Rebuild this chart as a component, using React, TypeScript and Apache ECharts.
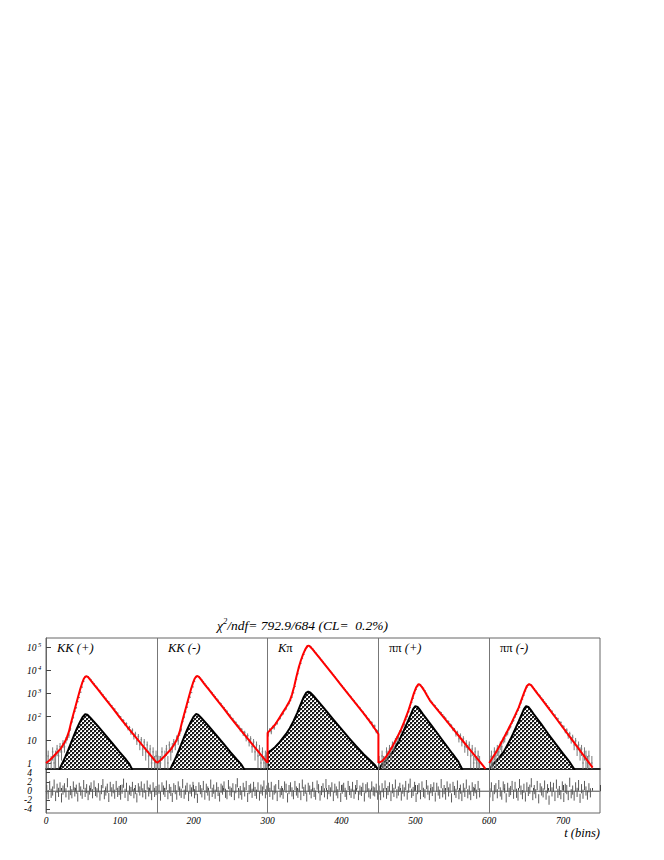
import React, { useEffect, useRef } from 'react';
import * as echarts from 'echarts';

// ---------- axis ranges / tick labels ----------
const X_MIN = 0;
const X_MAX = 750;
const X_INTERVAL = 100;
const Y_MIN = 0.55;
const Y_MAX = 2.45e5;
const R_MIN = -4.8;
const R_MAX = 4.8;
const separators = [150, 300, 450, 600];
const panelLabels = ['KK (+)', 'KK (-)', 'Kπ', 'ππ (+)', 'ππ (-)'];
const titleText = 'χ2/ndf= 792.9/684 (CL=  0.2%)';
const xTitle = 't (bins)';

// ---------- fit curve (red), [bin, log10(value)] ----------
const redKKp = [[0,0],[5,0.12],[10,0.28],[15,0.45],[20,0.62],[25,0.88],[28,1.07],[31,1.35],[34,1.75],[37,2.1],[40,2.45],[43,2.8],[46,3.15],[49,3.45],[51,3.62],[53,3.72],[55,3.74],[57,3.7],[60,3.58],[65,3.38],[70,3.18],[80,2.78],[90,2.38],[100,1.96],[110,1.56],[120,1.17],[130,0.78],[140,0.39],[150,0]];
const redKKm = [[150,0],[155,0.12],[160,0.28],[165,0.45],[170,0.62],[175,0.88],[178,1.07],[181,1.35],[184,1.75],[187,2.1],[190,2.45],[193,2.8],[196,3.15],[199,3.45],[201,3.62],[203,3.72],[205,3.75],[207,3.71],[210,3.59],[215,3.38],[220,3.18],[230,2.78],[240,2.38],[250,1.96],[260,1.56],[270,1.17],[280,0.78],[290,0.39],[300,0]];
const redKpi = [[300,0],[300,1.3],[305,1.47],[310,1.65],[315,1.9],[320,2.15],[325,2.4],[330,2.68],[333,2.95],[336,3.3],[339,3.72],[342,4.1],[345,4.42],[348,4.68],[351,4.9],[354,5.05],[356,5.06],[358,5.0],[361,4.9],[365,4.74],[370,4.54],[380,4.14],[390,3.74],[400,3.34],[410,2.94],[420,2.54],[430,2.14],[440,1.72],[450,1.25],[450,0]];
const redPiPip = [[450,0],[455,0.08],[460,0.25],[465,0.5],[470,0.78],[475,1.08],[480,1.4],[485,1.78],[490,2.2],[494,2.6],[498,3.0],[501,3.25],[504,3.39],[506,3.38],[509,3.27],[513,3.07],[516,2.9],[520,2.68],[530,2.29],[540,1.9],[550,1.51],[560,1.12],[570,0.73],[580,0.34],[590,-0.05],[595,-0.25]];
const redPiPim = [[600,0],[605,0.25],[610,0.5],[615,0.8],[620,1.1],[625,1.4],[630,1.72],[635,2.05],[640,2.4],[644,2.75],[648,3.1],[651,3.32],[654,3.4],[657,3.35],[660,3.22],[665,3.0],[670,2.8],[680,2.38],[690,1.95],[700,1.52],[710,1.09],[720,0.66],[730,0.23],[740,-0.2]];

// ---------- hatched component (black), [bin, log10(value)] ----------
const blkKKp = [[18,-0.3],[20,-0.15],[23,0.05],[26,0.25],[30,0.55],[34,0.88],[38,1.2],[42,1.5],[46,1.77],[50,2.0],[53,2.1],[56,2.08],[60,1.95],[70,1.6],[80,1.22],[90,0.84],[100,0.46],[108,0.16],[113,-0.05],[117,-0.3]];
const blkKKm = [[168,-0.3],[170,-0.15],[173,0.05],[176,0.25],[180,0.55],[184,0.88],[188,1.2],[192,1.5],[196,1.77],[200,2.0],[203,2.11],[206,2.08],[210,1.95],[220,1.6],[230,1.22],[240,0.84],[250,0.46],[258,0.16],[264,-0.05],[269,-0.3]];
const blkKpi = [[300,-0.3],[300,0.45],[305,0.55],[310,0.68],[315,0.85],[320,1.05],[325,1.25],[330,1.5],[335,1.8],[340,2.15],[345,2.55],[349,2.85],[352,3.02],[355,3.08],[358,3.03],[362,2.9],[370,2.6],[380,2.22],[390,1.84],[400,1.46],[410,1.08],[420,0.72],[430,0.38],[440,0.08],[446,-0.12],[450,-0.3]];
const blkPiPip = [[450,-0.3],[455,-0.05],[460,0.1],[465,0.3],[470,0.5],[475,0.8],[480,1.1],[485,1.45],[490,1.8],[494,2.1],[497,2.32],[500,2.45],[503,2.42],[506,2.3],[510,2.12],[520,1.7],[530,1.27],[540,0.84],[550,0.41],[558,0.07],[564,-0.3]];
const blkPiPim = [[600,-0.3],[605,-0.05],[610,0.1],[615,0.3],[620,0.5],[625,0.8],[630,1.1],[635,1.45],[640,1.8],[644,2.1],[647,2.32],[650,2.45],[653,2.42],[656,2.3],[660,2.12],[670,1.7],[680,1.25],[690,0.82],[700,0.4],[708,0.08],[716,-0.3]];

// ---------- data counts (every 2 bins) ----------
const dataStart = [0, 150, 300, 450, 600];
const dataKKp = [1,2,0,1,3,1,2,4,2,5,3,7,5,10,13,16,30,60,92,170,240,440,660,1130,1870,3300,4900,5450,5300,4480,3830,3120,2680,2160,1850,1490,1280,1030,880,700,615,485,430,335,295,228,210,158,140,102,96,70,68,47,49,31,34,21,26,14,18,9,14,6,10,4,8,3,6,2,4,1,3,1,2];
const dataKKm = [2,1,1,3,0,2,4,1,6,3,5,8,6,12,9,19,28,62,95,160,255,420,690,1080,1900,3250,4850,5500,5250,4550,3760,3180,2610,2230,1790,1520,1240,1060,860,730,590,510,405,355,280,245,195,170,128,115,88,79,60,55,42,38,28,27,19,20,12,15,8,11,5,8,3,6,2,4,1,3,1,2,0];
const dataKpi = [18,27,22,35,33,49,52,76,85,118,133,186,215,300,360,490,690,1060,1980,4050,7000,12700,19800,31800,47600,71000,95000,112000,111000,99500,83500,69000,57800,47700,40000,33200,27500,22800,19200,15700,13300,10900,9200,7500,6400,5200,4400,3600,3050,2480,2120,1730,1470,1190,1010,820,700,560,490,385,335,270,235,185,160,125,110,84,76,56,55,37,39,24,22];
const dataPiPip = [1,0,2,1,1,3,2,4,3,6,5,9,11,12,21,23,37,46,75,103,162,245,410,620,1010,1460,2020,2430,2360,1880,1680,1300,1010,750,600,470,410,320,290,225,200,160,146,118,98,84,62,60,44,40,29,27,18,20,11,15,8,11,5,7,4,6,2,4,1,3,1,2,1,0];
const dataPiPim = [1,2,1,3,2,4,3,6,5,10,11,18,20,31,37,55,68,98,128,185,248,390,560,840,1270,1850,2420,2480,2300,1850,1600,1300,1110,900,770,620,535,420,360,285,245,190,170,125,115,86,80,56,55,38,36,24,26,15,18,10,13,6,9,4,6,3,4,1,3,2,1,2,0,1];

// ---------- residuals (tenths, every 2 bins) ----------
const resKKp = [3,-8,12,-5,0,15,-12,6,-3,9,-15,2,7,-4,18,-9,1,-6,11,-2,4,-13,8,0,-7,14,-3,5,-10,2,9,-6,13,-1,-4,7,-11,3,16,-8,0,6,-14,10,-2,5,-7,12,-3,1,-9,4,17,-5,8,-12,2,-1,10,-6,3,-15,7,0,11,-4,6,-8,13,-2,4,-10,9,-3,1];
const resKKm = [-6,4,-11,9,2,-3,13,-8,5,-1,-14,7,3,-9,11,0,-5,16,-7,2,8,-12,4,-2,10,-6,1,-16,9,3,-4,12,-9,6,0,-11,15,-3,4,-7,9,-1,-13,6,2,11,-5,-8,14,0,-3,7,-10,5,18,-6,1,-9,8,-2,12,-14,3,6,-5,10,-1,-7,9,-11,4,0,13,-6,2];
const resKpi = [8,-3,10,-9,2,5,-12,14,-4,1,-7,11,6,-15,3,9,-2,-8,12,0,-5,7,-10,15,-1,4,-13,8,2,-6,10,-3,-9,13,5,-11,1,7,-4,16,-8,3,-2,9,-12,6,0,-6,11,-14,4,8,-3,-9,12,1,-5,10,-7,3,14,-10,2,-1,8,-13,5,9,-4,-7,11,0,-2,6,-9];
const resPiPip = [2,-10,7,-4,13,-7,1,9,-12,5,-3,15,-6,0,8,-11,4,-2,12,-9,6,17,-5,-1,10,-14,3,7,-8,11,-3,-6,14,2,-10,5,-1,9,-13,8,0,-7,16,-4,3,-9,11,-2,6,-15,10,1,-5,13,-8,4,-12,7,-3,15,-6,2,-10,9,-1,5,-7,12,-4];
const resPiPim = [-4,9,-12,3,7,-6,14,-2,-9,11,5,-15,8,-3,1,12,-7,10,-5,-11,16,2,-8,6,-13,9,-1,4,18,-10,3,-6,12,-17,7,0,-4,13,-9,5,-20,10,-2,8,-12,15,-5,1,-8,11,-14,6,3,-10,19,-6,2,-11,9,-3,14,-16,5,-7,12,0,-9,7,-4];

const redCurves = [redKKp, redKKm, redKpi, redPiPip, redPiPim];
const blkCurves = [blkKKp, blkKKm, blkKpi, blkPiPip, blkPiPim];
const dataSets = [dataKKp, dataKKm, dataKpi, dataPiPip, dataPiPim];
const resSets = [resKKp, resKKm, resKpi, resPiPip, resPiPim];

const SERIF = 'Liberation Serif';

export default function App() {
  const ref = useRef<HTMLDivElement>(null);

  useEffect(() => {
    if (!ref.current) return;
    const chart = echarts.init(ref.current, null, { renderer: 'svg' });

    const cv = document.createElement('canvas');
    cv.width = 4; cv.height = 4;
    const ctx = cv.getContext('2d')!;
    ctx.fillStyle = '#ffffff'; ctx.fillRect(0, 0, 4, 4);
    ctx.fillStyle = '#1a1a1a';
    ctx.fillRect(0, 0, 2, 2); ctx.fillRect(2, 2, 2, 2);
    ctx.fillStyle = '#9a9a9a';
    ctx.fillRect(2, 0, 1, 1); ctx.fillRect(0, 2, 1, 1);
    const hatch: any = { image: cv.toDataURL(), repeat: 'repeat', imageWidth: 4, imageHeight: 4 };

    const toVal = (arr: number[][]) => arr.map(([b, l]) => [b, Math.pow(10, l)]);

    const dataPts: number[][] = [];
    dataSets.forEach((arr, p) => arr.forEach((c, i) => dataPts.push([dataStart[p] + 2 * i + 1, c])));
    const resPts: number[][] = [];
    resSets.forEach((arr, p) => arr.forEach((r, i) => resPts.push([dataStart[p] + 2 * i + 1, r / 10])));

    const series: any[] = [];
    blkCurves.forEach((c) => series.push({
      type: 'line', xAxisIndex: 0, yAxisIndex: 0, data: toVal(c), showSymbol: false, symbol: 'none',
      lineStyle: { color: '#000', width: 2 }, areaStyle: { color: hatch, opacity: 1, origin: 'start' },
      z: 2, silent: true, clip: true,
    }));
    series.push({
      type: 'custom', xAxisIndex: 0, yAxisIndex: 0, data: dataPts, z: 3, clip: true, silent: true,
      renderItem: (_p: any, api: any) => {
        const x = api.value(0), c = api.value(1);
        if (!(c > 0)) return null;
        const e = Math.sqrt(c);
        const lo = Math.max(c - e, Y_MIN), hi = Math.min(c + e, Y_MAX);
        const p1 = api.coord([x, lo]), p2 = api.coord([x, hi]), pc = api.coord([x, c]);
        return {
          type: 'group', children: [
            { type: 'line', shape: { x1: p1[0], y1: p1[1], x2: p2[0], y2: p2[1] }, style: { stroke: '#7a7a7a', lineWidth: 1 } },
            { type: 'line', shape: { x1: pc[0] - 0.8, y1: pc[1], x2: pc[0] + 0.8, y2: pc[1] }, style: { stroke: '#7a7a7a', lineWidth: 1 } },
          ],
        };
      },
    });
    redCurves.forEach((c, i) => series.push({
      type: 'line', xAxisIndex: 0, yAxisIndex: 0, data: toVal(c), showSymbol: false, symbol: 'none',
      lineStyle: { color: '#ff0000', width: 2 }, z: 5, silent: true, clip: true,
      markLine: i === 0 ? {
        silent: true, symbol: ['none', 'none'], label: { show: false },
        lineStyle: { color: '#777', width: 1, type: 'solid' },
        data: separators.map((s) => ({ xAxis: s })),
      } : undefined,
    }));
    series.push({
      type: 'line', xAxisIndex: 1, yAxisIndex: 1, data: [[X_MIN, 0], [X_MAX, 0]], showSymbol: false, symbol: 'none',
      lineStyle: { color: '#999', width: 1 }, z: 1, silent: true,
      markLine: {
        silent: true, symbol: ['none', 'none'], label: { show: false },
        lineStyle: { color: '#777', width: 1, type: 'solid' },
        data: separators.map((s) => ({ xAxis: s })),
      },
    });
    series.push({
      type: 'custom', xAxisIndex: 1, yAxisIndex: 1, data: resPts, z: 3, clip: true, silent: true,
      renderItem: (_p: any, api: any) => {
        const x = api.value(0), r = api.value(1);
        const p1 = api.coord([x, Math.max(r - 1, R_MIN)]), p2 = api.coord([x, Math.min(r + 1, R_MAX)]);
        return { type: 'line', shape: { x1: p1[0], y1: p1[1], x2: p2[0], y2: p2[1] }, style: { stroke: '#5a5a5a', lineWidth: 1 } };
      },
    });

    const lbl = { fontFamily: SERIF, fontStyle: 'italic', color: '#000' };

    const option: any = {
      animation: false,
      backgroundColor: '#fff',
      grid: [
        { left: 46, top: 638, width: 554, height: 131, show: true, borderColor: '#666', borderWidth: 1, backgroundColor: 'transparent' },
        { left: 46, top: 769, width: 554, height: 44, show: true, borderColor: '#666', borderWidth: 1, backgroundColor: 'transparent' },
      ],
      xAxis: [
        {
          gridIndex: 0, type: 'value', min: X_MIN, max: X_MAX, interval: X_INTERVAL,
          axisLabel: { show: false }, axisTick: { show: false }, splitLine: { show: false },
          axisLine: { show: true, lineStyle: { color: '#000', width: 1.5 } },
        },
        {
          gridIndex: 1, type: 'value', min: X_MIN, max: X_MAX, interval: X_INTERVAL,
          axisLabel: { ...lbl, fontSize: 9.5, margin: 3, showMaxLabel: false },
          axisTick: { inside: true, length: 6, lineStyle: { color: '#444' } },
          minorTick: { show: true, splitNumber: 5, length: 3, lineStyle: { color: '#444' } },
          splitLine: { show: false }, minorSplitLine: { show: false },
          axisLine: { show: true, lineStyle: { color: '#666' } },
        },
      ],
      yAxis: [
        {
          gridIndex: 0, type: 'log', logBase: 10, min: Y_MIN, max: Y_MAX,
          axisLabel: {
            align: 'left', margin: 19, showMinLabel: false, showMaxLabel: false,
            formatter: (v: number) => {
              const e = Math.round(Math.log10(v));
              if (e === 0) return '{b|1}';
              if (e === 1) return '{b|10}';
              return '{b|10}{s|' + e + '}';
            },
            rich: {
              b: { ...lbl, fontSize: 9.5, lineHeight: 12, verticalAlign: 'bottom' },
              s: { ...lbl, fontSize: 6.5, lineHeight: 6, verticalAlign: 'top', padding: [0, 0, 0, 1.5] },
            },
          },
          axisTick: { inside: true, length: 5, lineStyle: { color: '#444' } },
          splitLine: { show: false },
          axisLine: { show: true, lineStyle: { color: '#666' } },
        },
        {
          gridIndex: 1, type: 'value', min: R_MIN, max: R_MAX, splitNumber: 5,
          axisLabel: { ...lbl, fontSize: 9.5, align: 'right', margin: 14, showMinLabel: false, showMaxLabel: false },
          axisTick: { inside: true, length: 4, lineStyle: { color: '#444' } },
          splitLine: { show: false },
          axisLine: { show: true, lineStyle: { color: '#666' } },
        },
      ],
      graphic: [
        {
          type: 'text', x: 217, y: 624, silent: true,
          style: {
            text: '{a|χ}{s|2}{a|' + titleText.slice(2) + '}',
            verticalAlign: 'middle',
            rich: {
              a: { ...lbl, fontSize: 13.5, lineHeight: 16, verticalAlign: 'bottom', fill: '#000' },
              s: { ...lbl, fontSize: 8.5, lineHeight: 8, verticalAlign: 'top', fill: '#000' },
            },
          },
        },
        ...panelLabels.map((t, i) => {
          const xs = [57, 168, 278, 389, 500];
          let text = '';
          if (t.startsWith('ππ')) text = '{g|ππ}{i|' + t.slice(2) + '}';
          else if (t === 'Kπ') text = '{i|K}{g|π}';
          else text = '{i|' + t + '}';
          return {
            type: 'text', x: xs[i], y: 648, silent: true,
            style: {
              text, verticalAlign: 'middle',
              rich: {
                i: { ...lbl, fontSize: 12.5, fill: '#000' },
                g: { fontFamily: SERIF, fontSize: 12.5, fill: '#000' },
              },
            },
          };
        }),
        {
          type: 'text', x: 600, y: 833, silent: true,
          style: { text: xTitle, align: 'right', verticalAlign: 'middle', font: 'italic 12.5px "Liberation Serif"', fill: '#000' },
        },
      ],
      series,
    };

    chart.setOption(option);
    return () => chart.dispose();
  }, []);

  return <div ref={ref} style={{ position: 'absolute', left: 0, top: 0, width: 664, height: 860 }} />;
}
